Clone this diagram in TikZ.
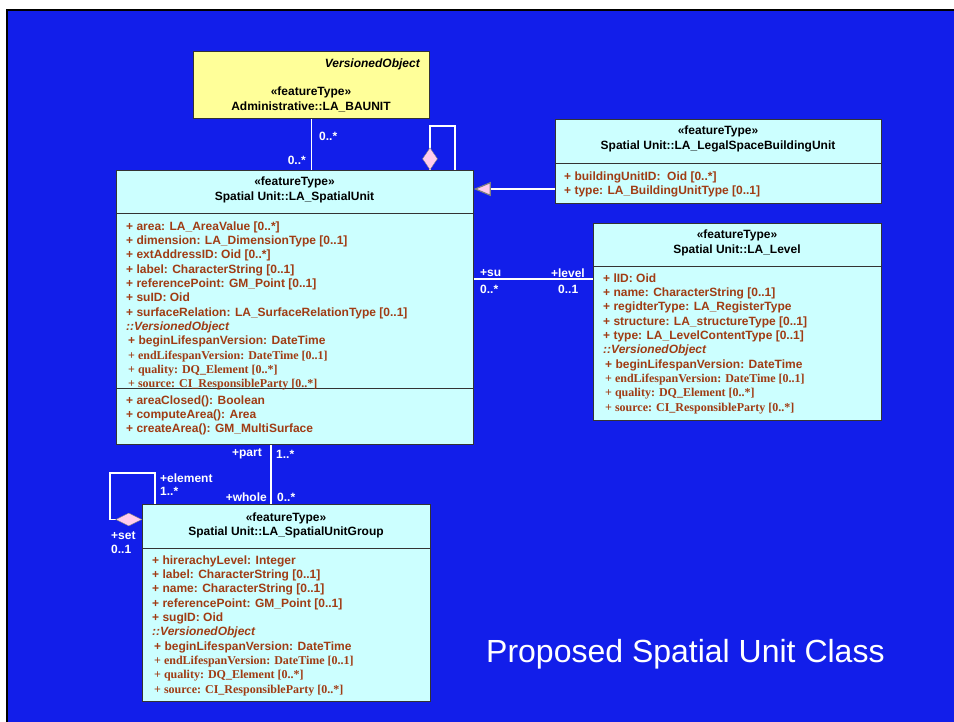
\documentclass[tikz,border=0pt]{standalone}
\usepackage{fontspec}
\setmainfont{Liberation Serif}
\setsansfont{Liberation Sans}
\usetikzlibrary{arrows.meta,shapes.geometric}
\definecolor{slideblue}{RGB}{18,30,234}
\definecolor{classcyan}{RGB}{204,255,255}
\definecolor{classyellow}{RGB}{255,255,153}
\definecolor{attrbrown}{RGB}{160,60,20}
\definecolor{diamondpink}{RGB}{255,204,238}
\newcommand{\umlfont}{\fontsize{12}{14.3}\selectfont}

\begin{document}
\begin{tikzpicture}[x=1pt, y=-1pt,
  classbox/.style={draw=black!80, line width=0.8pt, fill=classcyan, anchor=north west, inner sep=0},
  classname/.style={font=\sffamily\bfseries\umlfont, align=center, anchor=base, inner sep=0},
  attrs/.style={font=\sffamily\bfseries\umlfont, text=attrbrown, align=left, anchor=base west, inner sep=0},
  assoc/.style={draw=white, line width=1.2pt},
  aggr/.style={diamond, draw=black!50, fill=diamondpink, inner sep=0},
  rolelabel/.style={font=\sffamily\bfseries\umlfont, text=white, inner sep=0}]

\useasboundingbox (0,0) rectangle (954,722);
\fill[white] (0,0) rectangle (954,722);
\fill[slideblue] (7,10) rectangle (954,722);
\draw[line width=2.5pt] (7,722) -- (7,10) -- (954,10);

% classes
\node[classbox, fill=classyellow, minimum width=236pt, minimum height=67pt] (baunit) at (193,51) {};
\node[classbox, minimum width=357pt, minimum height=274pt] (su) at (116,170) {};
\node[classbox, minimum width=326pt, minimum height=84pt] (lsbu) at (555,119) {};
\node[classbox, minimum width=288pt, minimum height=197pt] (level) at (593,223) {};
\node[classbox, minimum width=288pt, minimum height=197pt] (group) at (142,504) {};

% compartments
\draw[black!80] (su.west |- 0,213) -- (su.east |- 0,213);
\draw[black!80] (su.west |- 0,388) -- (su.east |- 0,388);
\draw[black!80] (lsbu.west |- 0,163) -- (lsbu.east |- 0,163);
\draw[black!80] (level.west |- 0,266) -- (level.east |- 0,266);
\draw[black!80] (group.west |- 0,548) -- (group.east |- 0,548);

% headers (base = last line)
\node[classname, anchor=base east, font=\sffamily\bfseries\itshape\umlfont] (baunit-super) at (420,67.3) {VersionedObject};
\node[classname] (baunit-name) at (311,110.3) {«featureType»\\Administrative::LA\_BAUNIT};
\node[classname] (su-name) at (294.5,200.3) {«featureType»\\Spatial Unit::LA\_SpatialUnit};
\node[classname] (lsbu-name) at (718,149.3) {«featureType»\\Spatial Unit::LA\_LegalSpaceBuildingUnit};
\node[classname] (level-name) at (737,253.3) {«featureType»\\Spatial Unit::LA\_Level};
\node[classname] (group-name) at (286,535.3) {«featureType»\\Spatial Unit::LA\_SpatialUnitGroup};

% attributes
\node[attrs] (su-attrs) at (126,387.6) {+ area: LA\_AreaValue [0..*]\\
+ dimension: LA\_DimensionType [0..1]\\
+ extAddressID: Oid [0..*]\\
+ label: CharacterString [0..1]\\
+ referencePoint: GM\_Point [0..1]\\
+ suID: Oid\\
+ surfaceRelation: LA\_SurfaceRelationType [0..1]\\
\textit{::VersionedObject}\\
\hspace*{2pt}+ beginLifespanVersion: DateTime\\
\hspace*{2pt}{\rmfamily + endLifespanVersion: DateTime [0..1]}\\
\hspace*{2pt}{\rmfamily + quality: DQ\_Element [0..*]}\\
\hspace*{2pt}{\rmfamily + source: CI\_ResponsibleParty [0..*]}};
\node[attrs] (su-ops) at (126,432.9) {+ areaClosed(): Boolean\\
+ computeArea(): Area\\
+ createArea(): GM\_MultiSurface};
\node[attrs] (lsbu-attrs) at (564,194.6) {+ buildingUnitID:\ \ Oid [0..*]\\
+ type: LA\_BuildingUnitType [0..1]};
\node[attrs] (level-attrs) at (603,411) {+ lID: Oid\\
+ name: CharacterString [0..1]\\
+ regidterType: LA\_RegisterType\\
+ structure: LA\_structureType [0..1]\\
+ type: LA\_LevelContentType [0..1]\\
\textit{::VersionedObject}\\
\hspace*{2pt}+ beginLifespanVersion: DateTime\\
\hspace*{2pt}{\rmfamily + endLifespanVersion: DateTime [0..1]}\\
\hspace*{2pt}{\rmfamily + quality: DQ\_Element [0..*]}\\
\hspace*{2pt}{\rmfamily + source: CI\_ResponsibleParty [0..*]}};
\node[attrs] (group-attrs) at (152,693) {+ hirerachyLevel: Integer\\
+ label: CharacterString [0..1]\\
+ name: CharacterString [0..1]\\
+ referencePoint: GM\_Point [0..1]\\
+ sugID: Oid\\
\textit{::VersionedObject}\\
\hspace*{2pt}+ beginLifespanVersion: DateTime\\
\hspace*{2pt}{\rmfamily + endLifespanVersion: DateTime [0..1]}\\
\hspace*{2pt}{\rmfamily + quality: DQ\_Element [0..*]}\\
\hspace*{2pt}{\rmfamily + source: CI\_ResponsibleParty [0..*]}};

% associations
\draw[assoc] (baunit.south) -- (baunit.south |- su.north);
\node[rolelabel, anchor=west] (baunit-m1) at (319,136) {0..*};
\node[rolelabel, anchor=east] (baunit-m2) at (306,160) {0..*};

\draw[assoc, -{Triangle[length=17pt, width=14pt, fill=diamondpink, color=black!50]}]
  (lsbu.west |- 0,189) -- (su.east |- 0,189);

\draw[assoc] (su.east |- 0,279) -- (level.west |- 0,279);
\node[rolelabel, anchor=west] (su-role) at (480,273) {+su};
\node[rolelabel, anchor=west] (su-mult) at (480,289) {0..*};
\node[rolelabel, anchor=east] (level-role) at (585,273) {+level};
\node[rolelabel, anchor=west] (level-mult) at (558,289) {0..1};

\draw[assoc] (su.south -| 271,0) -- (group.north -| 271,0);
\node[rolelabel, anchor=east] (part-role) at (262,454) {+part};
\node[rolelabel, anchor=west] (part-mult) at (276,454) {1..*};
\node[rolelabel, anchor=east] (whole-role) at (267,497) {+whole};
\node[rolelabel, anchor=west] (whole-mult) at (277,497) {0..*};

% self aggregations
\coordinate (suloop) at (455,126);
\draw[assoc] (su.north -| 430,0) |- (suloop) -- (suloop |- su.north);
\node[aggr, minimum width=15pt, minimum height=22pt, anchor=south] (su-agg) at (su.north -| 430,0) {};

\coordinate (grouploop) at (110,473);
\draw[assoc] (group.west |- 0,519.5) -| (grouploop) -| (group.north -| 155,0);
\node[aggr, minimum width=26pt, minimum height=13pt, anchor=east] (group-agg) at (group.west |- 0,519.5) {};
\node[rolelabel, anchor=west] (element-role) at (160,478) {+element};
\node[rolelabel, anchor=west] (element-mult) at (160,491) {1..*};
\node[rolelabel, anchor=west] (set-role) at (111,536) {+set};
\node[rolelabel, anchor=west] (set-mult) at (111,549) {0..1};

\node[anchor=west, inner sep=0, text=white, font=\sffamily\fontsize{32}{38}\selectfont] (title) at (486,654) {Proposed Spatial Unit Class};
\end{tikzpicture}
\end{document}
